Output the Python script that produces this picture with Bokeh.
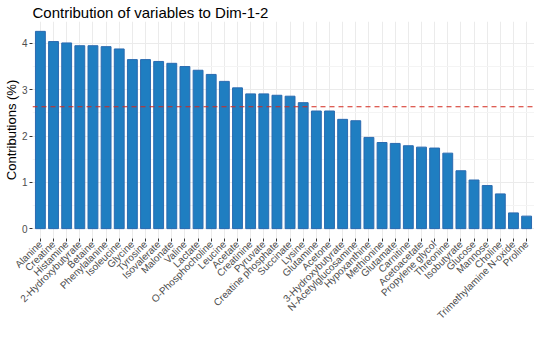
import math
from bokeh.plotting import figure
from bokeh.models import FixedTicker, Span, Range1d, ColumnDataSource
from bokeh.embed import file_html
from bokeh.resources import INLINE

categories = ["Alanine", "Creatine", "Histamine", "2-Hydroxybutyrate", "Betaine",
              "Phenylalanine", "Isoleucine", "Glycine", "Tyrosine", "Isovalerate",
              "Malonate", "Valine", "Lactate", "O-Phosphocholine", "Leucine",
              "Acetate", "Creatinine", "Pyruvate", "Creatine phosphate", "Succinate",
              "Lysine", "Glutamine", "Acetone", "3-Hydroxybutyrate", "N-Acetylglucosamine",
              "Hypoxanthine", "Methionine", "Glutamate", "Carnitine", "Acetoacetate",
              "Propylene glycol", "Threonine", "Isobutyrate", "Glucose", "Mannose",
              "Choline", "Trimethylamine N-oxide", "Proline"]
contributions = [4.26, 4.04, 4.01, 3.95, 3.95, 3.93, 3.88, 3.65, 3.65, 3.61,
                 3.57, 3.50, 3.42, 3.33, 3.18, 3.04, 2.91, 2.91, 2.88, 2.86,
                 2.72, 2.54, 2.54, 2.36, 2.33, 1.97, 1.86, 1.84, 1.79, 1.76,
                 1.74, 1.63, 1.25, 1.05, 0.93, 0.75, 0.34, 0.27]
y_ticks = [0, 1, 2, 3, 4]
expected = 100.0 / len(categories)

n = len(categories)
positions = list(range(n))
ymax = max(contributions)
ystart = -0.05 * ymax

src = ColumnDataSource(dict(x=positions, top=contributions, name=categories))

p = figure(width=534, height=327, output_backend="svg", toolbar_location=None,
           x_range=Range1d(-0.6, n - 1 + 0.6),
           y_range=Range1d(ystart, ymax * 1.05),
           title="Contribution of variables to Dim-1-2")

p.vbar(x="x", top="top", bottom=0, width=0.75, source=src,
       fill_color="#1F7EC1", line_color="#2A6AB0", line_width=1)

p.add_layout(Span(location=expected, dimension="width", line_color="#D42A1E",
                  line_dash="5 4", line_width=1.2))

p.title.text_font = "Liberation Sans"
p.title.text_font_size = "15px"
p.title.text_font_style = "normal"
p.title.text_color = "black"
p.title.offset = 0
p.title.standoff = 2

p.min_border_left = 23
p.min_border_right = 0
p.min_border_top = 17
p.min_border_bottom = 0
p.outline_line_color = None
p.background_fill_color = "white"
p.border_fill_color = "white"

# axes
p.xaxis.ticker = FixedTicker(ticks=positions)
p.xaxis.major_label_overrides = {i: c for i, c in enumerate(categories)}
p.xaxis.major_label_orientation = math.pi / 4
p.xaxis.major_label_text_font_size = "10px"
p.yaxis.ticker = FixedTicker(ticks=y_ticks, minor_ticks=[0.5, 1.5, 2.5, 3.5])
p.yaxis.axis_label = "Contributions (%)"
p.yaxis.axis_label_text_font = "Liberation Sans"
p.yaxis.axis_label_text_font_size = "13px"
p.yaxis.axis_label_text_font_style = "normal"
p.yaxis.axis_label_text_color = "black"
p.yaxis.axis_label_standoff = 0

for ax in (p.xaxis, p.yaxis):
    ax.axis_line_color = None
    ax.major_tick_line_color = "#333333"
    ax.major_tick_in = 0
    ax.major_tick_out = 3
    ax.minor_tick_line_color = None
    ax.major_label_text_font = "Liberation Sans"
    ax.major_label_text_color = "#4D4D4D"
    ax.major_label_standoff = 1
p.yaxis.major_label_text_font_size = "10px"

p.xgrid.grid_line_color = "#EBEBEB"
p.ygrid.grid_line_color = "#EBEBEB"
p.ygrid.minor_grid_line_color = "#F4F4F4"
p.xgrid.grid_line_width = 1
p.ygrid.grid_line_width = 1

open("out.html", "w").write(file_html(p, INLINE))
